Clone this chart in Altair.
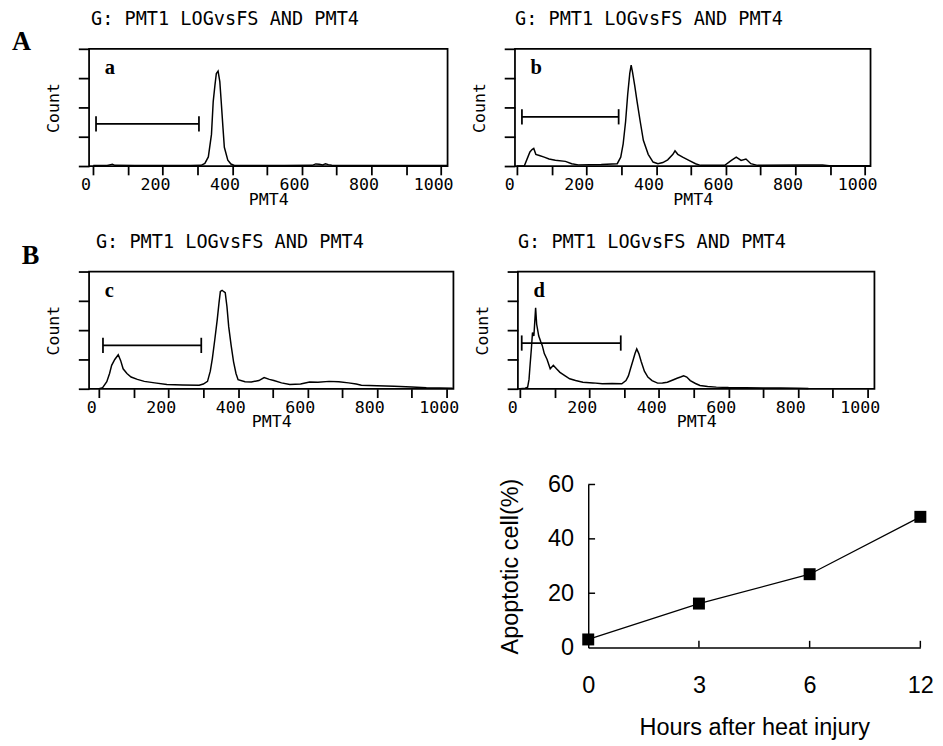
import altair as alt
import pandas as pd

MONO = "DejaVu Sans Mono"
SERIF = "Liberation Serif"
SANS = "Liberation Sans"

panel_title = "G: PMT1 LOGvsFS AND PMT4"
x_tick_values = list(range(0, 1001, 100))
count_ticks = [0, 0.25, 0.5, 0.75, 1.0]

# ---- histogram a (control) ----
a_pmt4 = [0, 40, 50, 55, 62, 120, 200, 280, 310, 321, 331, 340, 345, 350, 354, 359, 364, 368, 373,
          377, 387, 396, 406, 450, 550, 630, 640, 650, 660, 668, 676, 686, 700, 800, 900, 1000, 1019]
a_count = [0.004, 0.004, 0.012, 0.016, 0.006, 0.004, 0.004, 0.004, 0.006, 0.022, 0.078, 0.27, 0.55,
           0.69, 0.79, 0.81, 0.72, 0.55, 0.33, 0.16, 0.05, 0.017, 0.005, 0.004, 0.004, 0.006, 0.018,
           0.016, 0.01, 0.02, 0.012, 0.006, 0.004, 0.004, 0.004, 0.004, 0.004]

# ---- histogram b ----
b_pmt4 = [0, 21, 31, 37, 43, 48, 54, 64, 78, 92, 110, 139, 157, 176, 242, 288, 298, 305, 312, 318,
          324, 328, 332, 338, 345, 354, 363, 377, 391, 405, 419, 433, 448, 454, 462, 476, 494, 513,
          527, 597, 616, 630, 644, 658, 672, 691, 822, 878, 897, 991, 1016]
b_count = [0.0, 0.003, 0.076, 0.12, 0.14, 0.15, 0.10, 0.09, 0.076, 0.06, 0.05, 0.04, 0.02, 0.01,
           0.014, 0.02, 0.076, 0.19, 0.38, 0.61, 0.79, 0.86, 0.80, 0.69, 0.55, 0.38, 0.22, 0.10,
           0.034, 0.02, 0.03, 0.053, 0.10, 0.13, 0.10, 0.076, 0.048, 0.02, 0.006, 0.006, 0.048,
           0.076, 0.048, 0.06, 0.02, 0.006, 0.008, 0.008, 0.003, 0.003, 0.003]

# ---- histogram c ----
c_pmt4 = [0, 10, 22, 30, 36, 45, 55, 62, 69, 80, 92, 110, 130, 160, 195, 240, 288, 300, 312, 320,
          326, 333, 340, 345, 349, 354, 358, 363, 368, 373, 380, 387, 394, 400, 420, 438, 460, 475,
          490, 503, 525, 549, 580, 606, 630, 662, 690, 718, 740, 755, 800, 849, 900, 942, 980, 1018]
c_count = [0.0, 0.01, 0.06, 0.13, 0.20, 0.25, 0.29, 0.24, 0.17, 0.13, 0.10, 0.08, 0.063, 0.05, 0.036,
           0.032, 0.03, 0.04, 0.063, 0.15, 0.26, 0.42, 0.59, 0.73, 0.83, 0.84, 0.83, 0.82, 0.70, 0.53,
           0.37, 0.23, 0.13, 0.077, 0.06, 0.058, 0.07, 0.096, 0.08, 0.07, 0.05, 0.036, 0.04, 0.058,
           0.055, 0.063, 0.06, 0.05, 0.04, 0.03, 0.025, 0.022, 0.015, 0.008, 0.006, 0.005]

# ---- histogram d ----
d_pmt4 = [0, 15, 22, 26, 29, 33, 36, 40, 45, 48, 54, 60, 64, 70, 78, 87, 96, 105, 115, 130, 143, 160,
          181, 210, 237, 265, 293, 305, 312, 318, 326, 331, 336, 342, 349, 358, 368, 380, 396, 410,
          424, 440, 452, 462, 471, 480, 490, 505, 518, 540, 565, 600, 650, 700, 750, 799, 830]
d_count = [0.0, 0.005, 0.014, 0.08, 0.2, 0.35, 0.48, 0.45, 0.69, 0.55, 0.45, 0.40, 0.37, 0.30, 0.25,
           0.17, 0.20, 0.17, 0.14, 0.11, 0.085, 0.07, 0.056, 0.05, 0.042, 0.045, 0.042, 0.07, 0.11,
           0.17, 0.25, 0.30, 0.34, 0.30, 0.23, 0.15, 0.10, 0.07, 0.048, 0.05, 0.056, 0.075, 0.09,
           0.10, 0.11, 0.10, 0.07, 0.045, 0.028, 0.02, 0.014, 0.01, 0.008, 0.006, 0.006, 0.004, 0.003]

# gates: start, end, level
gate_a = [8, 304, 0.36]
gate_b = [14, 292, 0.42]
gate_c = [11, 294, 0.37]
gate_d = [5, 290, 0.39]

# ---- apoptosis time course ----
hours = ["0", "3", "6", "12"]
apoptotic = [3.0, 16.2, 27.0, 48.1]
apop_ticks = [0, 20, 40, 60]


def text_layer(txt, x, y, font, size, weight="normal"):
    return alt.Chart(pd.DataFrame({"t": [txt]})).mark_text(
        font=font, fontSize=size, fontWeight=weight, align="left",
        baseline="alphabetic", color="black").encode(
        x=alt.value(x), y=alt.value(y), text="t:N")


def histogram(xs, ys, gate, letter, domain, width, height, title_dx, big=None):
    df = pd.DataFrame({"PMT4": xs, "Count": ys})
    xenc = alt.X(
        "PMT4:Q", title="PMT4",
        scale=alt.Scale(domain=domain, nice=False, zero=False),
        axis=alt.Axis(values=x_tick_values, format="d",
                      labelExpr="datum.value % 200 === 0 ? datum.label : ''",
                      tickSize=9, tickWidth=1.8, tickColor="black", domain=False, grid=False,
                      labelFont=MONO, labelFontSize=17, labelColor="black", labelPadding=2,
                      labelOffset=-8, labelFlush=False, labelOverlap=False,
                      titleFont=MONO, titleFontSize=17, titleFontWeight="normal",
                      titleColor="black", titlePadding=-1))
    yenc = alt.Y(
        "Count:Q", title="Count",
        scale=alt.Scale(domain=[0, 1], nice=False),
        axis=alt.Axis(values=count_ticks, labels=False, tickSize=11, tickWidth=1.8,
                      tickColor="black", domain=False, grid=False,
                      titleFont=MONO, titleFontSize=17, titleFontWeight="normal",
                      titleColor="black", titlePadding=15))
    curve = alt.Chart(df).mark_line(color="black", strokeWidth=1.5).encode(x=xenc, y=yenc)
    gdf = pd.DataFrame({"PMT4": [gate[0]], "PMT4_end": [gate[1]], "Count": [gate[2]]})
    bar = alt.Chart(gdf).mark_rule(color="black", strokeWidth=1.8).encode(
        x=xenc, x2="PMT4_end:Q", y=yenc)
    edf = pd.DataFrame({"PMT4": [gate[0], gate[1]],
                        "Count": [gate[2] - 0.065] * 2,
                        "Count_top": [gate[2] + 0.065] * 2})
    ends = alt.Chart(edf).mark_rule(color="black", strokeWidth=1.8).encode(
        x=xenc, y=yenc, y2="Count_top:Q")
    layers = [curve, bar, ends,
              text_layer(letter, 16, 26, SERIF, 21, "bold"),
              text_layer(panel_title, title_dx, -24, MONO, 19)]
    if big is not None:
        layers.append(text_layer(big[0], big[1], big[2], SERIF, 27, "bold"))
    return alt.layer(*layers).properties(width=width, height=height)


pa = histogram(a_pmt4, a_count, gate_a, "a", [-12, 1019], 367, 120, 2, big=("A", -79, 1))
pb = histogram(b_pmt4, b_count, gate_b, "b", [-6, 1016], 364, 120, 0)
pc = histogram(c_pmt4, c_count, gate_c, "c", [-29, 1020], 373, 120, 7, big=("B", -69, -8))
pd_ = histogram(d_pmt4, d_count, gate_d, "d", [-6, 1020], 365, 120, 0)

# ---- line chart ----
ldf = pd.DataFrame({"Hours": hours, "Apoptotic": apoptotic})
lx = alt.X("Hours:O", title="Hours after heat injury",
           scale=alt.Scale(type="point", domain=hours, padding=0),
           axis=alt.Axis(labelAngle=0, ticks=False, labelPadding=27, labelFont=SANS,
                         labelFontSize=24, labelColor="black", titleFont=SANS, titleFontSize=24,
                         titleFontWeight="normal", titleColor="black", titlePadding=19,
                         domainColor="black", domainWidth=1.5, grid=False))
ly = alt.Y("Apoptotic:Q", title="Apoptotic cell(%)",
           scale=alt.Scale(domain=[0, 60], nice=False),
           axis=alt.Axis(values=apop_ticks, ticks=False, labelPadding=15, labelFont=SANS,
                         labelFontSize=24, labelColor="black", titleFont=SANS, titleFontSize=24,
                         titleFontWeight="normal", titleColor="black", titlePadding=26,
                         domainColor="black", domainWidth=1.5, grid=False))
lline = alt.Chart(ldf).mark_line(color="black", strokeWidth=1.3).encode(x=lx, y=ly)
lpts = alt.Chart(ldf).mark_square(size=150, color="black", opacity=1).encode(x=lx, y=ly)
xt = alt.Chart(pd.DataFrame({"Hours": hours[1:], "Apoptotic": [0] * 3, "top": [2.5] * 3})).mark_rule(
    color="black", strokeWidth=1.5).encode(x=lx, y=ly, y2="top:Q")
yt = alt.Chart(pd.DataFrame({"Hours": ["0"] * 3, "Apoptotic": apop_ticks[1:]})).mark_rule(
    color="black", strokeWidth=1.5).encode(x=lx, x2=alt.value(7), y=ly)
line_chart = alt.layer(lline, xt, yt, lpts).properties(
    width=340, height=167, view=alt.ViewBackground(stroke="transparent"))

spacer = alt.Chart(pd.DataFrame({"v": [0]})).mark_point(opacity=0).encode(
    x=alt.value(0), y=alt.value(0)).properties(
    width=400, height=10, view=alt.ViewBackground(stroke="transparent"))

row1 = alt.hconcat(pa, pb, spacing=16)
row2 = alt.hconcat(pc, pd_, spacing=13)
row3 = alt.hconcat(spacer, line_chart, spacing=17)
top = alt.vconcat(row1, row2, spacing=25)
chart = alt.vconcat(top, row3, spacing=42).properties(
    padding={"left": 3, "top": -7, "right": 0, "bottom": 0},
    background="white",
).configure_view(stroke="black", strokeWidth=1.8)

chart.save("out.html", embed_options={"renderer": "svg", "actions": False})
